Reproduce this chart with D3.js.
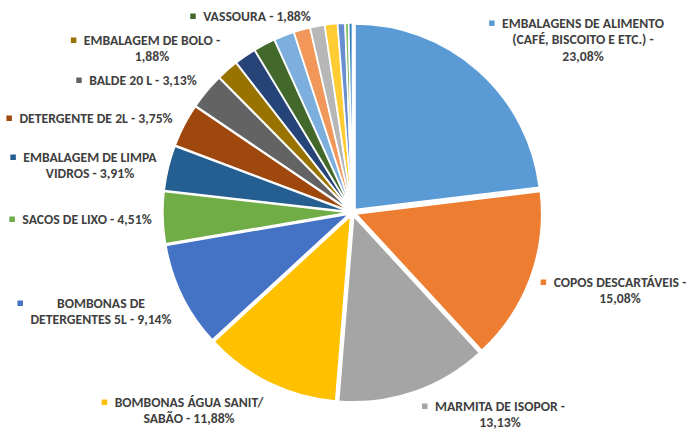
<!DOCTYPE html>
<html><head><meta charset="utf-8">
<script src="https://cdn.jsdelivr.net/npm/d3@7"></script>
<style>html,body{margin:0;padding:0;background:#fff;}</style>
</head><body>
<svg id="c" width="686" height="432"></svg>
<script>
const categories = [
  "EMBALAGENS DE ALIMENTO (CAFÉ, BISCOITO E ETC.)",
  "COPOS DESCARTÁVEIS",
  "MARMITA DE ISOPOR",
  "BOMBONAS ÁGUA SANIT/ SABÃO",
  "BOMBONAS DE DETERGENTES 5L",
  "SACOS DE LIXO",
  "EMBALAGEM DE LIMPA VIDROS",
  "DETERGENTE DE 2L",
  "BALDE 20 L",
  "EMBALAGEM DE BOLO",
  "OUTROS 1",
  "VASSOURA",
  "OUTROS 2","OUTROS 3","OUTROS 4","OUTROS 5","OUTROS 6","OUTROS 7","OUTROS 8"
];
const values = [23.08,15.08,13.13,11.88,9.14,4.51,3.91,3.75,3.13,1.88,1.88,1.88,1.75,1.41,1.25,1.09,0.63,0.31,0.31];
const colors = ["#5B9BD5","#ED7D31","#A5A5A5","#FFC000","#4472C4","#70AD47","#255E91","#9E480E","#636363","#997300","#264478","#43682B","#7CAFDD","#F1975A","#B7B7B7","#FFCD33","#698ED0","#8CC168","#327DC2"];
const labelLines = [
  ["EMBALAGENS DE ALIMENTO","(CAFÉ, BISCOITO E ETC.) -","23,08%"],
  ["COPOS DESCARTÁVEIS -","15,08%"],
  ["MARMITA DE ISOPOR -","13,13%"],
  ["BOMBONAS ÁGUA SANIT/","SABÃO - 11,88%"],
  ["BOMBONAS DE","DETERGENTES 5L - 9,14%"],
  ["SACOS DE LIXO - 4,51%"],
  ["EMBALAGEM DE LIMPA","VIDROS - 3,91%"],
  ["DETERGENTE DE 2L - 3,75%"],
  ["BALDE 20 L - 3,13%"],
  ["EMBALAGEM DE BOLO -","1,88%"],
  null,
  ["VASSOURA - 1,88%"]
];
// label block centres (layout): x centre, y of first line
const labelCenter = [
  [583,23],[620,282],[500,406],[189,402],[101,303],[87,219],[90,157],[96,118],[143,80],[152,40],null,[257,16]
];

const svg = d3.select("#c");
const cx = 352.4, cy = 212.5, R = 185.5, explode = 4;
const pie = d3.pie().sort(null).value(d => d)(values);
const arc = d3.arc().innerRadius(0).outerRadius(R);
const g = svg.append("g").attr("transform", `translate(${cx},${cy})`);
g.selectAll("path").data(pie).join("path")
  .attr("d", arc)
  .attr("fill", (d,i) => colors[i])
  .attr("stroke", "#fff").attr("stroke-width", 1.5)
  .attr("transform", d => {
    const a = (d.startAngle + d.endAngle)/2;
    return `translate(${explode*Math.sin(a)},${-explode*Math.cos(a)})`;
  });

const font = "Carlito, 'Open Sans', sans-serif";
const lineH = 16.5;
labelLines.forEach((lines, i) => {
  if (!lines) return;
  const [x, y] = labelCenter[i];
  const lg = svg.append("g");
  const t = lg.append("text").attr("font-family", font).attr("font-size", 13.7)
    .attr("font-weight", "bold").attr("fill", "#3f3f3f").attr("text-anchor", "middle");
  lines.forEach((l, k) => {
    t.append("tspan").attr("x", x).attr("y", y + 4.8 + k*lineH).text(l);
  });
  let w = 0;
  t.selectAll("tspan").each(function(){ w = Math.max(w, this.getComputedTextLength()); });
  lg.append("rect").attr("x", x - w/2 - 13).attr("y", y - 2.5).attr("width", 5.5).attr("height", 5.5)
    .attr("fill", colors[i]);
});
</script>
</body></html>
